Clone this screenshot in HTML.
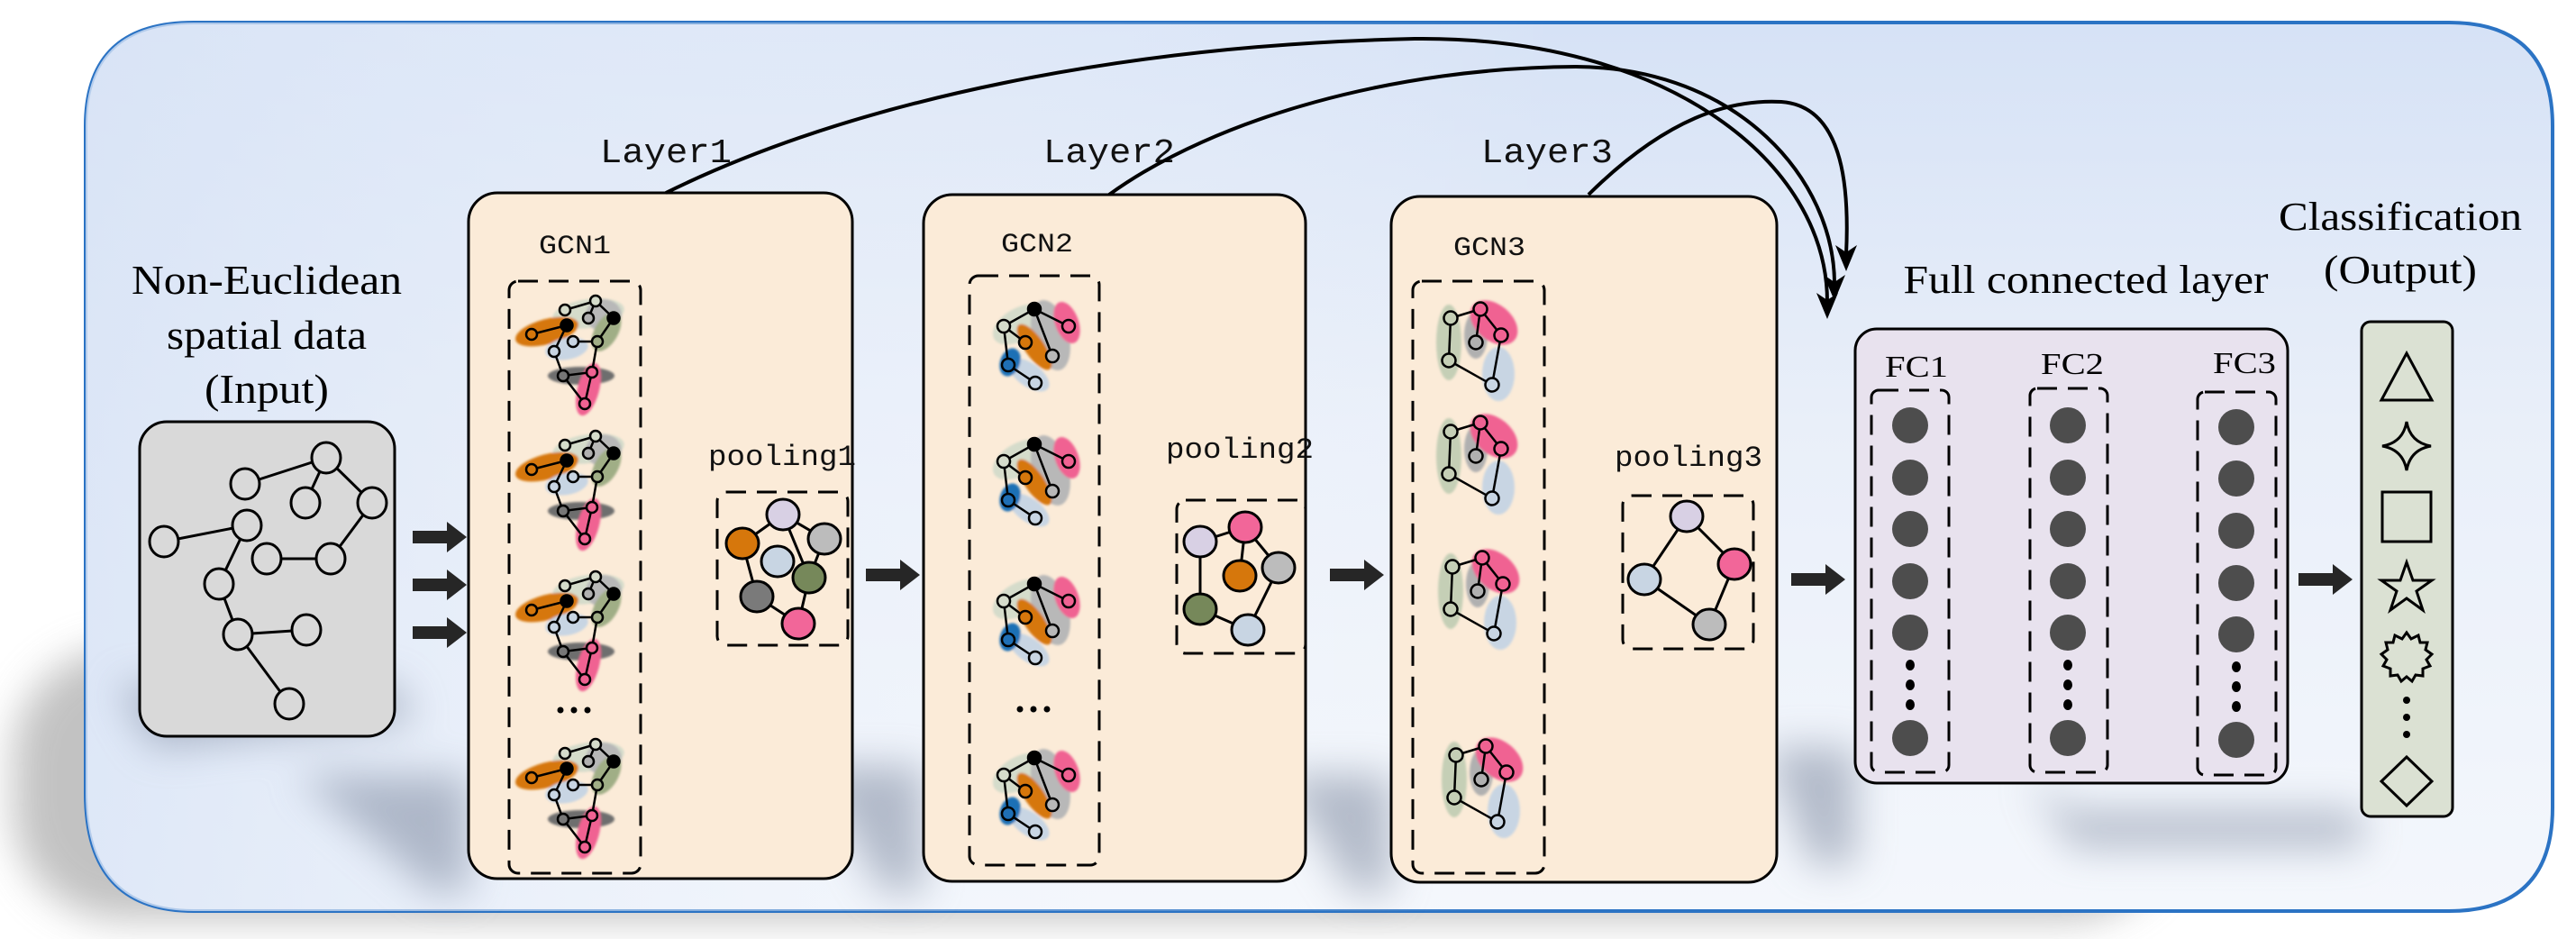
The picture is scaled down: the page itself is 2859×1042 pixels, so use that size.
<!DOCTYPE html>
<html><head><meta charset="utf-8"><style>
html,body{margin:0;padding:0;background:#fff;}
svg{display:block;}
.lbl{font-family:"Liberation Mono",monospace;fill:#111;}
.ser{font-family:"Liberation Serif",serif;fill:#000;}
</style></head><body>
<svg width="2859" height="1042" viewBox="0 0 2859 1042" xmlns="http://www.w3.org/2000/svg">
<defs>
<linearGradient id="bg" x1="0" y1="0" x2="0" y2="1">
<stop offset="0" stop-color="#d6e2f6"/><stop offset="0.45" stop-color="#e9eff9"/><stop offset="1" stop-color="#f4f7fc"/>
</linearGradient>
<linearGradient id="bgh" x1="0" y1="0" x2="1" y2="0">
<stop offset="0" stop-color="#d9e4f6" stop-opacity="0.8"/><stop offset="0.6" stop-color="#ffffff" stop-opacity="0"/>
</linearGradient>
<filter id="bl" x="-20%" y="-50%" width="140%" height="200%"><feGaussianBlur stdDeviation="22"/></filter>
<filter id="bs" x="-20%" y="-20%" width="140%" height="140%"><feGaussianBlur stdDeviation="1.2"/></filter>
</defs>

<rect x="15" y="720" width="2400" height="300" rx="120" fill="#9a9a9a" filter="url(#bl)" opacity="0.6"/>
<path d="M215,25 H2718 Q2833,25 2833,140 V896 Q2833,1011 2718,1011 H215 Q95,1011 95,880 V140 Q95,25 215,25 Z" fill="url(#bg)" stroke="#2b73c4" stroke-width="4"/>
<path d="M215,25 H2718 Q2833,25 2833,140 V896 Q2833,1011 2718,1011 H215 Q95,1011 95,880 V140 Q95,25 215,25 Z" fill="url(#bgh)"/>

<g filter="url(#bl)" fill="#7f8aa0" opacity="0.55">
<polygon points="130,760 440,760 460,800 170,830"/>
<polygon points="330,860 520,860 520,990 480,990"/>
<polygon points="900,850 1025,850 1025,990 980,990"/>
<polygon points="1420,860 1544,860 1544,990 1500,990"/>
<polygon points="1960,830 2059,830 2059,960 2010,960"/>
<polygon points="2250,860 2300,900 2539,900 2621,900 2621,940 2300,940"/>
</g>

<rect x="155" y="468" width="283" height="349" rx="30" fill="#d9d9d9" stroke="#000" stroke-width="3"/>
<text class="ser" x="296" y="326" font-size="46" text-anchor="middle" textLength="300" lengthAdjust="spacingAndGlyphs">Non-Euclidean</text>
<text class="ser" x="296" y="387" font-size="46" text-anchor="middle" textLength="222" lengthAdjust="spacingAndGlyphs">spatial data</text>
<text class="ser" x="296" y="447" font-size="46" text-anchor="middle" textLength="138" lengthAdjust="spacingAndGlyphs">(Input)</text>
<g stroke="#000" stroke-width="3" fill="none">
<line x1="272" y1="537" x2="362" y2="508"/><line x1="362" y1="508" x2="339" y2="558"/><line x1="362" y1="508" x2="413" y2="558"/>
<line x1="413" y1="558" x2="367" y2="620"/><line x1="296" y1="620" x2="367" y2="620"/><line x1="182" y1="601" x2="274" y2="583"/>
<line x1="274" y1="583" x2="243" y2="648"/><line x1="243" y1="648" x2="264" y2="704"/><line x1="264" y1="704" x2="340" y2="699"/>
<line x1="264" y1="704" x2="321" y2="781"/>
</g>
<g stroke="#000" stroke-width="3" fill="#d9d9d9">
<ellipse cx="362" cy="508" rx="16" ry="17"/><ellipse cx="272" cy="537" rx="16" ry="17"/><ellipse cx="339" cy="558" rx="16" ry="17"/>
<ellipse cx="413" cy="558" rx="16" ry="17"/><ellipse cx="182" cy="601" rx="16" ry="17"/><ellipse cx="274" cy="583" rx="16" ry="17"/>
<ellipse cx="296" cy="620" rx="16" ry="17"/><ellipse cx="367" cy="620" rx="16" ry="17"/><ellipse cx="243" cy="648" rx="16" ry="17"/>
<ellipse cx="264" cy="704" rx="16" ry="17"/><ellipse cx="340" cy="699" rx="16" ry="17"/><ellipse cx="321" cy="781" rx="16" ry="17"/>
</g>

<g fill="#262626">
<path d="M0,-7 H38 V-17 L60,0 L38,17 V7 H0 Z" transform="translate(458,596)"/>
<path d="M0,-7 H38 V-17 L60,0 L38,17 V7 H0 Z" transform="translate(458,649)"/>
<path d="M0,-7 H38 V-17 L60,0 L38,17 V7 H0 Z" transform="translate(458,702)"/>
<path d="M0,-7 H38 V-17 L60,0 L38,17 V7 H0 Z" transform="translate(723,635)"/>
<path d="M0,-7 H38 V-17 L60,0 L38,17 V7 H0 Z" transform="translate(961,638)"/>
<path d="M0,-7 H38 V-17 L60,0 L38,17 V7 H0 Z" transform="translate(1237,637)"/>
<path d="M0,-7 H38 V-17 L60,0 L38,17 V7 H0 Z" transform="translate(1476,638)"/>
<path d="M0,-7 H38 V-17 L60,0 L38,17 V7 H0 Z" transform="translate(1730,639)"/>
<path d="M0,-7 H38 V-17 L60,0 L38,17 V7 H0 Z" transform="translate(1988,643)"/>
<path d="M0,-7 H38 V-17 L60,0 L38,17 V7 H0 Z" transform="translate(2175,647)"/>
<path d="M0,-7 H38 V-17 L60,0 L38,17 V7 H0 Z" transform="translate(2357,647)"/>
<path d="M0,-7 H38 V-17 L60,0 L38,17 V7 H0 Z" transform="translate(2551,643)"/>
</g>

<rect x="520" y="214" width="426" height="761" rx="32" fill="#fbebd8" stroke="#000" stroke-width="3"/>
<rect x="1025" y="216" width="424" height="762" rx="32" fill="#fbebd8" stroke="#000" stroke-width="3"/>
<rect x="1544" y="218" width="428" height="761" rx="32" fill="#fbebd8" stroke="#000" stroke-width="3"/>
<text class="lbl" x="739" y="180" font-size="38" text-anchor="middle" textLength="146" lengthAdjust="spacingAndGlyphs">Layer1</text>
<text class="lbl" x="1231" y="180" font-size="38" text-anchor="middle" textLength="146" lengthAdjust="spacingAndGlyphs">Layer2</text>
<text class="lbl" x="1717" y="180" font-size="38" text-anchor="middle" textLength="146" lengthAdjust="spacingAndGlyphs">Layer3</text>
<text class="lbl" x="638" y="281" font-size="30" text-anchor="middle" textLength="80" lengthAdjust="spacingAndGlyphs">GCN1</text>
<text class="lbl" x="1151" y="279" font-size="30" text-anchor="middle" textLength="80" lengthAdjust="spacingAndGlyphs">GCN2</text>
<text class="lbl" x="1653" y="283" font-size="30" text-anchor="middle" textLength="80" lengthAdjust="spacingAndGlyphs">GCN3</text>
<text class="lbl" x="868" y="516" font-size="32" text-anchor="middle" textLength="164" lengthAdjust="spacingAndGlyphs">pooling1</text>
<text class="lbl" x="1376" y="508" font-size="32" text-anchor="middle" textLength="164" lengthAdjust="spacingAndGlyphs">pooling2</text>
<text class="lbl" x="1874" y="517" font-size="32" text-anchor="middle" textLength="164" lengthAdjust="spacingAndGlyphs">pooling3</text>

<g fill="none" stroke="#000" stroke-width="3" stroke-dasharray="22,12">
<rect x="565" y="312" width="146" height="657" rx="10"/>
<rect x="1076" y="306" width="144" height="654" rx="10"/>
<rect x="1568" y="312" width="146" height="657" rx="10"/>
<rect x="796" y="546" width="145" height="170" rx="10"/>
<rect x="1306" y="555" width="143" height="170" rx="10"/>
<rect x="1801" y="550" width="145" height="170" rx="10"/>
</g>

<defs>
<g id="g1">
<g filter="url(#bs)">
<ellipse cx="88" cy="38" rx="40" ry="16" transform="rotate(-8 88 38)" fill="#d5dccb"/>
<ellipse cx="105" cy="40" rx="20" ry="18" fill="#b8b8b8"/>
<ellipse cx="108" cy="58" rx="13" ry="24" transform="rotate(30 108 58)" fill="#a0ae86"/>
<ellipse cx="42" cy="58" rx="36" ry="14" transform="rotate(-15 42 58)" fill="#d6770c"/>
<ellipse cx="64" cy="77" rx="24" ry="12" transform="rotate(-10 64 77)" fill="#c8d5e3"/>
<ellipse cx="80" cy="107" rx="37" ry="10" fill="#6e6e6e"/>
<ellipse cx="88" cy="122" rx="12" ry="30" transform="rotate(15 88 122)" fill="#f06292"/>
</g>
<g stroke="#000" stroke-width="2.5">
<line x1="62" y1="34" x2="96" y2="24"/><line x1="96" y1="24" x2="88" y2="43"/><line x1="96" y1="24" x2="116" y2="43"/>
<line x1="116" y1="43" x2="98" y2="69"/><line x1="71" y1="69" x2="98" y2="69"/><line x1="25" y1="61" x2="64" y2="51"/>
<line x1="64" y1="51" x2="50" y2="80"/><line x1="98" y1="69" x2="92" y2="103"/><line x1="60" y1="107" x2="92" y2="103"/>
<line x1="60" y1="107" x2="84" y2="138"/><line x1="92" y1="103" x2="84" y2="138"/><line x1="50" y1="80" x2="60" y2="107"/>
</g>
<g stroke="#000" stroke-width="2.5">
<circle cx="62" cy="34" r="6" fill="#d5dccb"/><circle cx="96" cy="24" r="6" fill="#d5dccb"/><circle cx="88" cy="43" r="6" fill="#b0b0b0"/>
<circle cx="116" cy="43" r="6.5" fill="#000"/><circle cx="64" cy="51" r="6.5" fill="#000"/><circle cx="25" cy="61" r="6" fill="#d6770c"/>
<circle cx="71" cy="69" r="6" fill="#c8d5e3"/><circle cx="50" cy="80" r="6" fill="#c8d5e3"/><circle cx="98" cy="69" r="6" fill="#a0ae86"/>
<circle cx="60" cy="107" r="6" fill="#777"/><circle cx="92" cy="103" r="6" fill="#f06292"/><circle cx="84" cy="138" r="6" fill="#f06292"/>
</g>
</g>
<g id="g2">
<g filter="url(#bs)">
<ellipse cx="55" cy="50" rx="32" ry="18" transform="rotate(-30 55 50)" fill="#d5dccb"/>
<ellipse cx="90" cy="62" rx="20" ry="40" transform="rotate(-15 90 62)" fill="#b8b8b8"/>
<ellipse cx="108" cy="48" rx="13" ry="24" transform="rotate(-20 108 48)" fill="#f06292"/>
<ellipse cx="72" cy="75" rx="11" ry="30" transform="rotate(-35 72 75)" fill="#d6770c"/>
<ellipse cx="66" cy="106" rx="26" ry="13" transform="rotate(35 66 106)" fill="#c8d5e3"/>
<ellipse cx="45" cy="92" rx="11" ry="16" transform="rotate(20 45 92)" fill="#1f6fb5"/>
</g>
<g stroke="#000" stroke-width="2.5">
<line x1="72" y1="33" x2="38" y2="52"/><line x1="72" y1="33" x2="110" y2="52"/><line x1="72" y1="33" x2="92" y2="85"/>
<line x1="38" y1="52" x2="62" y2="70"/><line x1="38" y1="52" x2="43" y2="95"/><line x1="43" y1="95" x2="73" y2="115"/>
</g>
<g stroke="#000" stroke-width="2.5">
<circle cx="72" cy="33" r="7" fill="#000"/><circle cx="38" cy="52" r="7" fill="#d5dccb"/><circle cx="110" cy="52" r="7" fill="#f06292"/>
<circle cx="62" cy="70" r="7" fill="#d6770c"/><circle cx="92" cy="85" r="7" fill="#b8b8b8"/><circle cx="43" cy="95" r="7" fill="#1f6fb5"/>
<circle cx="73" cy="115" r="7" fill="#c8d5e3"/>
</g>
</g>
<g id="g3">
<g filter="url(#bs)">
<ellipse cx="40" cy="60" rx="14" ry="42" fill="#c5cfb6"/>
<ellipse cx="70" cy="52" rx="13" ry="26" fill="#b0b0b0"/>
<ellipse cx="90" cy="38" rx="30" ry="20" transform="rotate(40 90 38)" fill="#f06292"/>
<ellipse cx="95" cy="95" rx="18" ry="30" fill="#c8d5e3"/>
</g>
<g stroke="#000" stroke-width="2.5">
<line x1="42" y1="33" x2="75" y2="23"/><line x1="42" y1="33" x2="40" y2="80"/><line x1="75" y1="23" x2="98" y2="52"/>
<line x1="75" y1="23" x2="70" y2="60"/><line x1="98" y1="52" x2="88" y2="107"/><line x1="40" y1="80" x2="88" y2="107"/>
</g>
<g stroke="#000" stroke-width="2.5">
<circle cx="42" cy="33" r="7.5" fill="#c5cfb6"/><circle cx="75" cy="23" r="7.5" fill="#f06292"/><circle cx="98" cy="52" r="7.5" fill="#f06292"/>
<circle cx="70" cy="60" r="7.5" fill="#b0b0b0"/><circle cx="40" cy="80" r="7.5" fill="#c5cfb6"/><circle cx="88" cy="107" r="7.5" fill="#c8d5e3"/>
</g>
</g>
</defs>
<use href="#g1" x="565" y="310"/><use href="#g1" x="565" y="460"/><use href="#g1" x="565" y="616"/><use href="#g1" x="565" y="802"/>
<use href="#g2" x="1076" y="310"/><use href="#g2" x="1076" y="460"/><use href="#g2" x="1076" y="615"/><use href="#g2" x="1076" y="808"/>
<use href="#g3" x="1568" y="320"/><use href="#g3" x="1568" y="446"/><use href="#g3" x="1570" y="596"/><use href="#g3" x="1574" y="805"/>
<g fill="#000"><circle cx="622" cy="788" r="3.5"/><circle cx="637" cy="788" r="3.5"/><circle cx="652" cy="788" r="3.5"/>
<circle cx="1132" cy="787" r="3.5"/><circle cx="1147" cy="787" r="3.5"/><circle cx="1162" cy="787" r="3.5"/></g>

<g stroke="#000" stroke-width="3">
<line x1="824" y1="603" x2="869" y2="571"/><line x1="869" y1="571" x2="915" y2="598"/><line x1="869" y1="571" x2="898" y2="641"/>
<line x1="915" y1="598" x2="898" y2="641"/><line x1="824" y1="603" x2="840" y2="662"/><line x1="898" y1="641" x2="886" y2="692"/>
<line x1="840" y1="662" x2="886" y2="692"/>
<line x1="1332" y1="601" x2="1382" y2="585"/><line x1="1332" y1="601" x2="1332" y2="676"/><line x1="1382" y1="585" x2="1376" y2="639"/>
<line x1="1382" y1="585" x2="1419" y2="630"/><line x1="1419" y1="630" x2="1385" y2="699"/><line x1="1332" y1="676" x2="1385" y2="699"/>
<line x1="1872" y1="573" x2="1925" y2="626"/><line x1="1872" y1="573" x2="1825" y2="643"/><line x1="1825" y1="643" x2="1897" y2="693"/>
<line x1="1897" y1="693" x2="1925" y2="626"/>
</g>
<g stroke="#000" stroke-width="3">
<ellipse cx="869" cy="571" rx="18" ry="17" fill="#d8d0e4"/><ellipse cx="915" cy="598" rx="18" ry="17" fill="#bcbcbc"/>
<ellipse cx="824" cy="603" rx="18" ry="17" fill="#d6770c"/><ellipse cx="863" cy="623" rx="18" ry="17" fill="#c8d5e3"/>
<ellipse cx="898" cy="641" rx="18" ry="17" fill="#76885a"/><ellipse cx="840" cy="662" rx="18" ry="17" fill="#7a7a7a"/>
<ellipse cx="886" cy="692" rx="18" ry="17" fill="#f26699"/>
<ellipse cx="1332" cy="601" rx="18" ry="17" fill="#d8d0e4"/><ellipse cx="1382" cy="585" rx="18" ry="17" fill="#f26699"/>
<ellipse cx="1376" cy="639" rx="18" ry="17" fill="#d6770c"/><ellipse cx="1419" cy="630" rx="18" ry="17" fill="#bcbcbc"/>
<ellipse cx="1332" cy="676" rx="18" ry="17" fill="#76885a"/><ellipse cx="1385" cy="699" rx="18" ry="17" fill="#c8d5e3"/>
<ellipse cx="1872" cy="573" rx="18" ry="17" fill="#d8d0e4"/><ellipse cx="1925" cy="626" rx="18" ry="17" fill="#f26699"/>
<ellipse cx="1825" cy="643" rx="18" ry="17" fill="#c8d5e3"/><ellipse cx="1897" cy="693" rx="18" ry="17" fill="#bcbcbc"/>
</g>

<g fill="none" stroke="#000" stroke-width="4">
<path d="M739,214 C950,110 1250,50 1570,43 C1850,40 2028,180 2028,335"/>
<path d="M1231,216 C1350,130 1550,75 1749,74 C1930,75 2036,200 2036,315"/>
<path d="M1763,216 C1850,130 1920,110 1977,113 C2050,118 2052,220 2049,282"/>
</g>
<g fill="#000">
<path d="M2016,325 L2028,354 L2040,325 L2028,333 Z"/>
<path d="M2024,305 L2036,334 L2048,305 L2036,313 Z"/>
<path d="M2037,272 L2049,301 L2061,272 L2049,280 Z"/>
</g>

<text class="ser" x="2315" y="325" font-size="44" text-anchor="middle" textLength="405" lengthAdjust="spacingAndGlyphs">Full connected layer</text>
<rect x="2059" y="365" width="480" height="504" rx="24" fill="#e8e2ee" stroke="#000" stroke-width="3"/>
<text class="ser" x="2127" y="418" font-size="34" text-anchor="middle" textLength="70" lengthAdjust="spacingAndGlyphs">FC1</text>
<text class="ser" x="2300" y="415" font-size="34" text-anchor="middle" textLength="70" lengthAdjust="spacingAndGlyphs">FC2</text>
<text class="ser" x="2491" y="414" font-size="34" text-anchor="middle" textLength="70" lengthAdjust="spacingAndGlyphs">FC3</text>
<g fill="none" stroke="#000" stroke-width="3" stroke-dasharray="22,12">
<rect x="2077" y="433" width="86" height="424" rx="8"/>
<rect x="2253" y="431" width="86" height="426" rx="8"/>
<rect x="2439" y="435" width="87" height="425" rx="8"/>
</g>
<g fill="#4d4d4d">
<circle cx="2120" cy="472" r="20"/><circle cx="2120" cy="530" r="20"/><circle cx="2120" cy="587" r="20"/><circle cx="2120" cy="645" r="20"/><circle cx="2120" cy="702" r="20"/><circle cx="2120" cy="819" r="20"/>
<circle cx="2295" cy="472" r="20"/><circle cx="2295" cy="530" r="20"/><circle cx="2295" cy="587" r="20"/><circle cx="2295" cy="645" r="20"/><circle cx="2295" cy="702" r="20"/><circle cx="2295" cy="819" r="20"/>
<circle cx="2482" cy="474" r="20"/><circle cx="2482" cy="531" r="20"/><circle cx="2482" cy="589" r="20"/><circle cx="2482" cy="647" r="20"/><circle cx="2482" cy="704" r="20"/><circle cx="2482" cy="821" r="20"/>
</g>
<g fill="#000">
<ellipse cx="2120" cy="738" rx="5" ry="6"/><ellipse cx="2120" cy="760" rx="5" ry="6"/><ellipse cx="2120" cy="782" rx="5" ry="6"/>
<ellipse cx="2295" cy="738" rx="5" ry="6"/><ellipse cx="2295" cy="760" rx="5" ry="6"/><ellipse cx="2295" cy="782" rx="5" ry="6"/>
<ellipse cx="2482" cy="740" rx="5" ry="6"/><ellipse cx="2482" cy="762" rx="5" ry="6"/><ellipse cx="2482" cy="784" rx="5" ry="6"/>
</g>

<text class="ser" x="2664" y="255" font-size="44" text-anchor="middle" textLength="270" lengthAdjust="spacingAndGlyphs">Classification</text>
<text class="ser" x="2664" y="314" font-size="44" text-anchor="middle" textLength="170" lengthAdjust="spacingAndGlyphs">(Output)</text>
<rect x="2621" y="357" width="101" height="549" rx="10" fill="#dbe1d3" stroke="#000" stroke-width="3"/>
<g fill="none" stroke="#000" stroke-width="3">
<path d="M2671,392 L2699,444 L2643,444 Z"/>
<path d="M2671,468 Q2675,491 2698,495 Q2675,499 2671,522 Q2667,499 2644,495 Q2667,491 2671,468 Z"/>
<rect x="2644" y="546" width="54" height="55"/>
<path d="M2671,624 L2678,644 L2699,644 L2682,656 L2689,677 L2671,664 L2653,677 L2660,656 L2643,644 L2664,644 Z"/>
<path d="M2671,702 L2676,709 L2684,705 L2686,713 L2694,713 L2692,721 L2699,726 L2693,732 L2697,739 L2689,742 L2689,750 L2681,749 L2677,756 L2671,751 L2665,756 L2661,749 L2653,750 L2653,742 L2645,739 L2649,732 L2643,726 L2650,721 L2648,713 L2656,713 L2658,705 L2666,709 Z"/>
<path d="M2671,840 L2699,867 L2671,894 L2643,867 Z"/>
</g>
<g fill="#000"><circle cx="2671" cy="777" r="4"/><circle cx="2671" cy="796" r="4"/><circle cx="2671" cy="815" r="4"/></g>
</svg>
</body></html>
